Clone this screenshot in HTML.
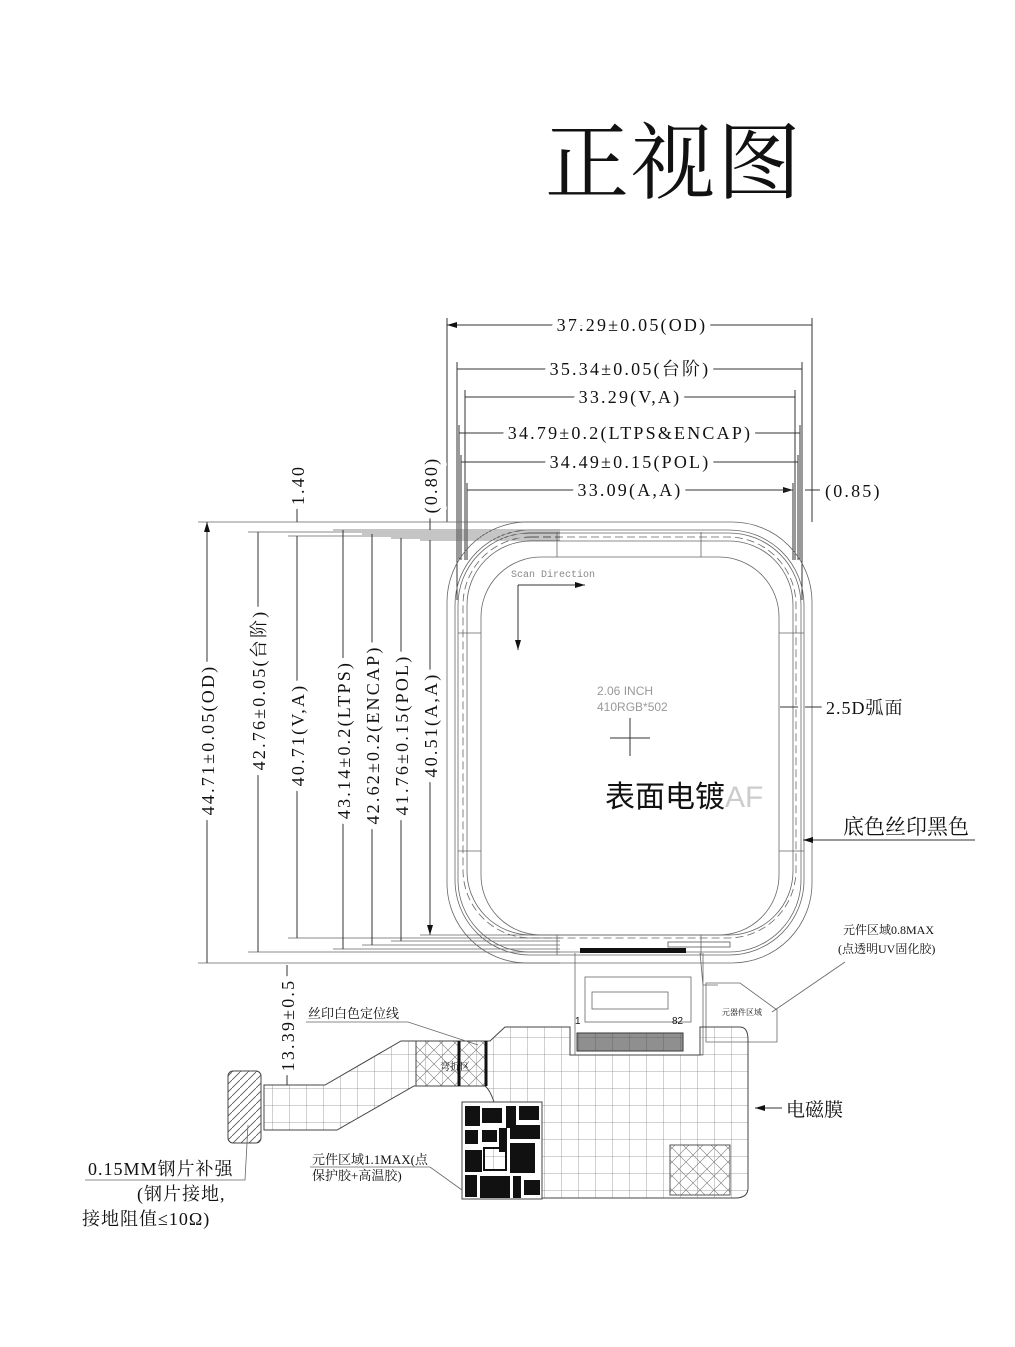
<!DOCTYPE html>
<html><head><meta charset="utf-8"><style>
html,body{margin:0;padding:0;background:#fff}
svg{display:block}
text{font-family:"Liberation Serif","Noto Serif CJK SC","Noto Sans CJK SC",serif;fill:#111}
.d{font-size:18px;letter-spacing:2.2px;stroke:#fff;stroke-width:12px;paint-order:stroke;stroke-linejoin:round}
.l{stroke:#333;stroke-width:1;fill:none}
.t{stroke:#666;stroke-width:.8;fill:none}
</style></head><body>
<svg width="1015" height="1347" viewBox="0 0 1015 1347" xmlns="http://www.w3.org/2000/svg">
<defs>
<marker id="a" viewBox="0 0 10 6" refX="10" refY="3" markerWidth="10" markerHeight="6" orient="auto-start-reverse" markerUnits="userSpaceOnUse"><path d="M0,0L10,3L0,6z" fill="#111"/></marker>
<pattern id="g" width="17" height="17" patternUnits="userSpaceOnUse"><path d="M0,0H17M0,0V17" stroke="#888" stroke-width=".8" fill="none"/></pattern>
<pattern id="x" width="14" height="14" patternUnits="userSpaceOnUse"><path d="M0,0L14,14M14,0L0,14" stroke="#777" stroke-width=".6"/></pattern>
<pattern id="h" width="8" height="8" patternUnits="userSpaceOnUse"><path d="M0,8L8,0" stroke="#555" stroke-width=".8"/></pattern>
</defs>
<text x="545" y="192" style="font-size:84px;letter-spacing:2px">正视图</text>

<!-- top horizontal dims -->
<g class="l">
<path d="M447,318V522M812,318V522M457,362V600M802,362V600M465,390V560M795,390V560M459,425V560M800,425V560M461,455V560M798,455V560M467,483V560M793,483V560"/>
<path d="M447,325H812M457,369H802M465,397H795M459,433H800M461,462H798M467,490H793" marker-start="url(#a)" marker-end="url(#a)"/>
<path d="M780,490H793M805,490H825" />
</g>
<text class="d" x="632" y="331" text-anchor="middle">37.29±0.05(OD)</text>
<text class="d" x="630" y="375" text-anchor="middle">35.34±0.05(台阶)</text>
<text class="d" x="630" y="403" text-anchor="middle">33.29(V,A)</text>
<text class="d" x="630" y="439" text-anchor="middle">34.79±0.2(LTPS&amp;ENCAP)</text>
<text class="d" x="630" y="468" text-anchor="middle">34.49±0.15(POL)</text>
<text class="d" x="630" y="496" text-anchor="middle">33.09(A,A)</text>
<text class="d" x="825" y="497">(0.85)</text>

<!-- left horizontal extension lines -->
<g class="t">
<path d="M198,522H560M248,532H560M288,536H560M333,530H560M362,534H560M391,538H560M420,540H560"/>
<path d="M198,963H560M248,952H560M288,938H560M333,949H560M362,945H560M391,941H560M420,935H560"/>
</g>
<g class="l">
<path d="M207,522V963M258,532V952M297,536V938M343,530V949M372,534V945M401,538V941M430,540V935" marker-start="url(#a)" marker-end="url(#a)"/>
<path d="M297,505V522M297,536V550M430,510V530M430,540V555M287,965V1085"/>
</g>
<g class="d">
<text transform="translate(214,740) rotate(-90)" text-anchor="middle">44.71±0.05(OD)</text>
<text transform="translate(265,690) rotate(-90)" text-anchor="middle">42.76±0.05(台阶)</text>
<text transform="translate(304,735) rotate(-90)" text-anchor="middle">40.71(V,A)</text>
<text transform="translate(350,740) rotate(-90)" text-anchor="middle">43.14±0.2(LTPS)</text>
<text transform="translate(379,735) rotate(-90)" text-anchor="middle">42.62±0.2(ENCAP)</text>
<text transform="translate(408,735) rotate(-90)" text-anchor="middle">41.76±0.15(POL)</text>
<text transform="translate(437,725) rotate(-90)" text-anchor="middle">40.51(A,A)</text>
<text transform="translate(304,485) rotate(-90)" text-anchor="middle">1.40</text>
<text transform="translate(437,485) rotate(-90)" text-anchor="middle">(0.80)</text>
<text transform="translate(294,1025) rotate(-90)" text-anchor="middle">13.39±0.5</text>
</g>

<!-- display outlines -->
<g class="t">
<rect x="447" y="522" width="365" height="441" rx="80"/>
<rect x="455" y="530" width="349" height="425" rx="75"/>
<rect x="458" y="533" width="343" height="419" rx="72"/>
<rect x="463" y="537" width="333" height="401" rx="68" stroke-dasharray="8 4"/>
<rect x="467" y="541" width="326" height="394" rx="64"/>
<rect x="481" y="557" width="298" height="378" rx="60"/>
<path d="M557,532V557M701,532V557M557,935V955M701,935V955M458,633H481M458,851H481M779,633H804M779,851H804"/>
</g>
<text x="511" y="577" style="font-size:10px;fill:#888;font-family:'Liberation Mono',monospace">Scan Direction</text>
<path d="M518,585V650" class="l" marker-end="url(#a)"/>
<path d="M518,585H585" class="l" marker-end="url(#a)"/>
<text x="597" y="695" style="font-size:12px;fill:#999;font-family:'Liberation Sans',sans-serif">2.06 INCH</text>
<text x="597" y="711" style="font-size:12px;fill:#999;font-family:'Liberation Sans',sans-serif">410RGB*502</text>
<path d="M610,738H650M630,718V756" class="l"/>
<text x="605" y="807" style="font-size:30px;font-family:'Liberation Sans','Noto Sans CJK SC',sans-serif">表面电镀<tspan style="fill:#ccc">AF</tspan></text>
<!-- right labels -->
<path d="M780,707H798M805,707H822" class="l"/>
<text class="d" x="826" y="714" style="font-size:18px;letter-spacing:1px">2.5D弧面</text>
<path d="M803,840H975" class="l"/><path d="M840,840H803" class="l" marker-end="url(#a)"/>
<text x="843" y="834" style="font-size:21px">底色丝印黑色</text>

<!-- connector at bottom -->
<rect x="580" y="948" width="106" height="5" fill="#111"/>
<rect x="668" y="942" width="62" height="5" fill="none" stroke="#555" stroke-width=".8"/>
<!-- neck -->
<path class="t" d="M575,953V1055H703V953M700,953L703,985H718"/>
<rect class="t" x="585" y="977" width="106" height="45"/>
<rect class="t" x="592" y="992" width="76" height="17"/>
<rect x="577" y="1033" width="106" height="18" fill="url(#g)" stroke="#333"/>
<rect x="577" y="1033" width="106" height="18" fill="#444" opacity=".6"/>
<text x="575" y="1024" style="font-size:10px;font-family:'Liberation Sans',sans-serif">1</text>
<text x="672" y="1024" style="font-size:10px;font-family:'Liberation Sans',sans-serif">82</text>
<path class="t" d="M706,983H740L777,1010V1042H706Z"/>
<text x="722" y="1015" style="font-size:8px">元器件区域</text>
<!-- FPC body -->
<path d="M264,1085H325L401,1041H490L505,1027H570V1055H700V1027H740Q748,1027 748,1040V1188Q748,1198 735,1198H540V1102H494Q490,1090 485,1086H414L337,1130H264Z" fill="url(#g)" stroke="#444" stroke-width="1"/>
<rect x="416" y="1041" width="70" height="45" fill="url(#x)" stroke="#444"/>
<path d="M459,1041V1086M486,1041V1086" stroke="#111" stroke-width="3"/>
<text x="440" y="1070" style="font-size:10px">弯折区</text>
<rect x="228" y="1071" width="33" height="72" rx="5" fill="url(#h)" stroke="#444"/>
<rect x="670" y="1145" width="60" height="50" fill="url(#x)" stroke="#555"/>
<!-- component block -->
<rect x="462" y="1102" width="80" height="97" fill="#fff" stroke="#444"/>
<g fill="#111">
<rect x="465" y="1106" width="15" height="20"/><rect x="482" y="1108" width="20" height="15"/><rect x="506" y="1106" width="10" height="22"/><rect x="519" y="1106" width="20" height="14"/>
<rect x="465" y="1130" width="13" height="14"/><rect x="482" y="1130" width="15" height="12"/><rect x="499" y="1128" width="8" height="24"/><rect x="510" y="1125" width="30" height="14"/>
<rect x="465" y="1150" width="17" height="22"/><rect x="510" y="1143" width="25" height="30"/>
<rect x="465" y="1175" width="12" height="22"/><rect x="480" y="1176" width="30" height="22"/><rect x="513" y="1176" width="8" height="22"/><rect x="524" y="1180" width="16" height="15"/>
</g>
<rect x="484" y="1148" width="22" height="22" fill="url(#g)" stroke="#111" stroke-width="2"/>
<!-- leaders -->
<path class="t" d="M306,1022H408L478,1045"/>
<text x="308" y="1018" style="font-size:13px">丝印白色定位线</text>
<path class="t" d="M845,962L772,1012"/>
<text x="843" y="934" style="font-size:12px">元件区域0.8MAX</text>
<text x="838" y="953" style="font-size:12px">(点透明UV固化胶)</text>
<path class="l" d="M782,1108H755" marker-end="url(#a)"/>
<text x="786" y="1116" style="font-size:19px">电磁膜</text>
<path class="t" d="M310,1167H430L462,1190"/>
<text x="312" y="1164" style="font-size:13px">元件区域1.1MAX(点</text>
<text x="312" y="1180" style="font-size:13px">保护胶+高温胶)</text>
<path class="t" d="M85,1180H245L248,1125"/>
<text x="88" y="1175" style="font-size:18px;letter-spacing:1px">0.15MM钢片补强</text>
<text x="137" y="1200" style="font-size:18px;letter-spacing:1px">(钢片接地,</text>
<text x="82" y="1225" style="font-size:18px;letter-spacing:1px">接地阻值≤10Ω)</text>
</svg>
</body></html>
